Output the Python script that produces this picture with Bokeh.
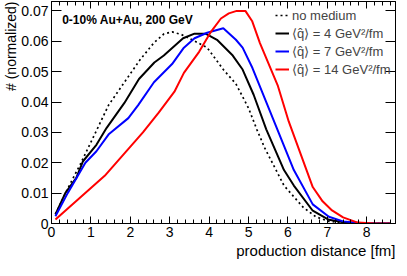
import math
from bokeh.plotting import figure
from bokeh.models import (Range1d, LinearAxis, SingleIntervalTicker, Legend, LegendItem,
                          Label, Title, CustomJSTickFormatter)
from bokeh.embed import file_html
from bokeh.resources import INLINE

# ---- data ----
nm_x = [0.1, 0.4, 0.73, 1.1, 1.45, 1.85, 2.24, 2.6, 2.85, 3.06, 3.3, 3.6, 3.95, 4.36, 4.68,
        5.0, 5.21, 5.41, 5.9, 6.39, 6.71, 7.04, 7.5, 8.0, 8.6]
nm_y = [0.0031, 0.0112, 0.0195, 0.0295, 0.0390, 0.0465, 0.0538, 0.0595, 0.0624, 0.0631,
        0.0622, 0.0603, 0.0579, 0.0507, 0.0460, 0.0380, 0.0310, 0.0249, 0.0125, 0.0053,
        0.0022, 0.0007, 0.0001, 0.0, 0.0]

q4_x = [0.1, 0.35, 0.63, 0.8, 1.14, 1.4, 1.85, 2.22, 2.61, 2.85, 3.34, 3.63, 3.91, 4.2, 4.6,
        4.85, 5.13, 5.45, 5.9, 6.15, 6.63, 7.04, 7.45, 8.0, 8.6]
q4_y = [0.0030, 0.0100, 0.0150, 0.0205, 0.0259, 0.0315, 0.0397, 0.0476, 0.0530, 0.0553,
        0.0610, 0.0625, 0.0625, 0.0605, 0.0553, 0.0507, 0.0424, 0.0310, 0.0176, 0.0125,
        0.0042, 0.0012, 0.0003, 0.0, 0.0]

q7_x = [0.1, 0.41, 0.86, 1.14, 1.46, 1.95, 2.2, 2.6, 3.06, 3.36, 3.63, 3.95, 4.36, 4.68, 4.85,
        5.1, 5.7, 6.15, 6.63, 7.04, 7.4, 7.9, 8.6]
q7_y = [0.0024, 0.0100, 0.0200, 0.0238, 0.0295, 0.0347, 0.0390, 0.0465, 0.0525, 0.0579,
        0.0610, 0.0628, 0.0643, 0.0605, 0.0579, 0.0512, 0.0320, 0.0176, 0.0063, 0.0022,
        0.0007, 0.0001, 0.0]

q14_x = [0.1, 1.35, 2.32, 2.72, 3.12, 3.36, 3.75, 4.05, 4.3, 4.5, 4.7, 4.92, 5.09, 5.29, 5.74,
         6.02, 6.63, 6.88, 7.12, 7.4, 7.77, 8.2, 8.6]
q14_y = [0.0013, 0.0157, 0.0300, 0.0365, 0.0434, 0.0496, 0.0566, 0.0632, 0.0675, 0.0692,
         0.0700, 0.0700, 0.0667, 0.0594, 0.0455, 0.0336, 0.0120, 0.0073, 0.0043, 0.0020,
         0.0003, 0.0, 0.0]

labels = ["no medium",
          "\u27e8q\u0302\u27e9 = 4 GeV\u00b2/fm",
          "\u27e8q\u0302\u27e9 = 7 GeV\u00b2/fm",
          "\u27e8q\u0302\u27e9 = 14 GeV\u00b2/fm"]
x_title = "production distance [fm]"
y_title = "# (normalized)"
plot_title = "0-10% Au+Au, 200 GeV"

FONT = "Liberation Sans"
X_MAX = 8.73
Y_MAX = 0.0731

W, H = 397, 260
BL, BR, BT, BB = 48, 2, 1, 37
FW, FH = W - BL - BR, H - BT - BB

p = figure(width=W, height=H, output_backend="svg", toolbar_location=None,
           x_range=Range1d(0, X_MAX), y_range=Range1d(0, Y_MAX),
           x_axis_type=None, y_axis_type=None,
           min_border_left=BL, min_border_right=BR, min_border_top=BT, min_border_bottom=BB)
p.outline_line_color = "black"
p.outline_line_width = 1
p.background_fill_color = "white"
p.border_fill_color = "white"

blank = CustomJSTickFormatter(code="return '';")

def style_axis(ax, tick_in, minor_in, show_labels):
    ax.axis_line_color = "black"
    ax.major_tick_line_color = "black"
    ax.minor_tick_line_color = "black"
    ax.major_tick_in = tick_in
    ax.major_tick_out = 0
    ax.minor_tick_in = minor_in
    ax.minor_tick_out = 0
    ax.major_label_text_font = FONT
    if show_labels:
        ax.major_label_text_font_size = "14px"
        ax.major_label_text_color = "black"
        ax.major_label_standoff = 3
    else:
        ax.formatter = blank
        ax.major_label_text_font_size = "1px"
        ax.major_label_standoff = 0

xb = LinearAxis(ticker=SingleIntervalTicker(interval=1, num_minor_ticks=5))
style_axis(xb, 7, 4, True)
p.add_layout(xb, "below")
xt = LinearAxis(ticker=SingleIntervalTicker(interval=1, num_minor_ticks=5))
style_axis(xt, 7, 4, False)
p.add_layout(xt, "above")

yl = LinearAxis(ticker=SingleIntervalTicker(interval=0.01, num_minor_ticks=0),
                formatter=CustomJSTickFormatter(code="return Math.abs(tick) < 1e-9 ? '0' : tick.toFixed(2);"))
style_axis(yl, 10, 0, True)
p.add_layout(yl, "left")
yr = LinearAxis(ticker=SingleIntervalTicker(interval=0.01, num_minor_ticks=0))
style_axis(yr, 10, 0, False)
p.add_layout(yr, "right")

p.add_layout(Title(text=x_title, align="right", text_font=FONT, text_font_size="15px",
                   text_font_style="normal", text_color="black", standoff=0), "below")
p.add_layout(Title(text=y_title, align="right", text_font=FONT, text_font_size="14px",
                   text_font_style="normal", text_color="black", standoff=0), "left")

r_nm = p.line(nm_x, nm_y, line_color="black", line_width=1.7, line_dash="2 3")
r_4 = p.line(q4_x, q4_y, line_color="black", line_width=2)
r_7 = p.line(q7_x, q7_y, line_color="#0000ff", line_width=2)
r_14 = p.line(q14_x, q14_y, line_color="#ff0000", line_width=2)

legend = Legend(items=[LegendItem(label=labels[0], renderers=[r_nm]),
                       LegendItem(label=labels[1], renderers=[r_4]),
                       LegendItem(label=labels[2], renderers=[r_7]),
                       LegendItem(label=labels[3], renderers=[r_14])],
                location=(224, FH - 5 - 72), orientation="vertical",
                glyph_width=14, glyph_height=18, label_height=18, label_standoff=3,
                spacing=0, padding=0, margin=0,
                background_fill_alpha=0, border_line_alpha=0,
                label_text_font=FONT, label_text_font_size="13px")
p.add_layout(legend)

p.add_layout(Label(x=0.27, y=0.0671, text=plot_title, text_font=FONT,
                   text_font_size="12px", text_font_style="bold", text_color="black",
                   text_baseline="alphabetic", text_align="left"))

open("out.html", "w").write(file_html(p, INLINE))
